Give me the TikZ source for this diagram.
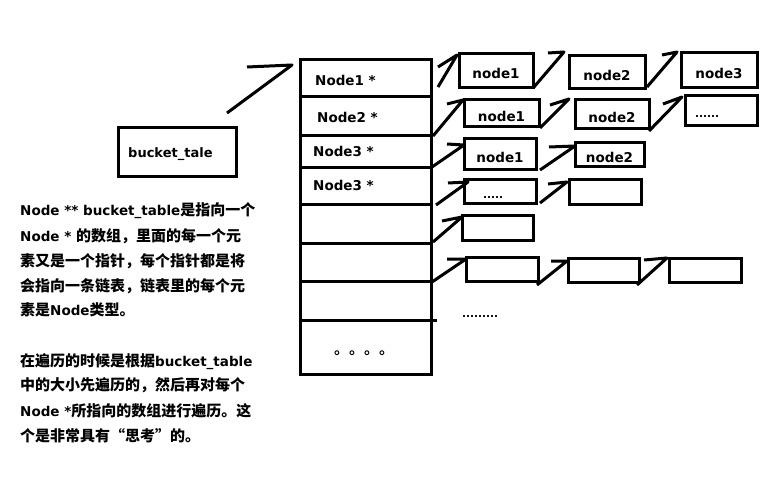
\documentclass[tikz,border=0pt]{standalone}
\usepackage{fontspec}
\setmainfont{DejaVu Sans}
\newfontfamily\zhfont{Noto Sans CJK SC}[UprightFont=* Bold]
\usetikzlibrary{calc}
\newcommand\zhs[1]{{\zhfont\fontsize{15}{18}\selectfont #1}}
\begin{document}
\begin{tikzpicture}[x=1pt,y=-1pt,
  lat/.style={font=\bfseries\fontsize{13.5}{16}\selectfont},
  box/.style={draw, line width=3pt, inner sep=0pt, outer sep=0pt, anchor=north west, lat, text height=16pt, text depth=0pt},
  lbl/.style={inner sep=0pt, anchor=west, lat},
  txt/.style={inner sep=0pt, anchor=base west, lat},
  dots/.style={inner sep=0pt, anchor=base west, font=\bfseries\fontsize{10.5}{12}\selectfont},
  tline/.style={line width=3pt},
  hand/.style={line width=3pt, line join=round}]
\useasboundingbox (0,0) rectangle (778,486);

% bucket box
\node[box, minimum width=118, minimum height=49] (bucket) at (118,128) {};
\node[lbl, font=\bfseries\fontsize{13}{16}\selectfont] (bucketlbl) at (128,154) {bucket\_tale};

% table
\node[draw, line width=3pt, minimum width=131, minimum height=314, anchor=north west, inner sep=0pt, outer sep=0pt] (tbl) at (300,60) {};
\foreach \dy in {37,76,108,145,183,221}
  \draw[tline] ($(tbl.north west)+(0,\dy)$) -- ($(tbl.north east)+(0,\dy)$);
\draw[tline] ($(tbl.north west)+(2,260)$) -- ($(tbl.north east)+(6,260)$);
\node[lbl] (n1) at (315,80) {Node1 *};
\node[lbl] (n2) at (317,117) {Node2 *};
\node[lbl] (n3) at (313,151) {Node3 *};
\node[lbl] (n4) at (313,185) {Node3 *};
\node[inner sep=0pt, anchor=base west, font=\zhfont\fontsize{15}{18}\selectfont] (tdots) at (334,354) {。。。。};

% list boxes
\node[box, minimum width=74, minimum height=34] (r1a) at (459,54) {node1};
\node[box, minimum width=76, minimum height=33] (r1b) at (569,56) {node2};
\node[box, minimum width=76, minimum height=35] (r1c) at (681,53) {node3};
\node[box, minimum width=75, minimum height=27] (r2a) at (464,100) {node1};
\node[box, minimum width=74, minimum height=29] (r2b) at (575,100) {node2};
\node[box, minimum width=72, minimum height=30] (r2c) at (685,96) {};
\node[dots] (r2cdots) at (695,118) {......};
\node[box, minimum width=72, minimum height=31] (r3a) at (464,139) {node1};
\node[box, minimum width=69, minimum height=24] (r3b) at (575,143) {node2};
\node[box, minimum width=72, minimum height=24] (r4a) at (464,180) {};
\node[dots] (r4adots) at (483,198.5) {.....};
\node[box, minimum width=72, minimum height=25] (r4b) at (569,180) {};
\node[box, minimum width=71, minimum height=24] (r5a) at (462,216) {};
\node[box, minimum width=72, minimum height=24] (r6a) at (466,257) {};
\node[box, minimum width=71, minimum height=24] (r6b) at (568,258) {};
\node[box, minimum width=72, minimum height=24] (r6c) at (669,258) {};
\node[dots] (moredots) at (462,317.5) {.........};

% hand drawn arrows
\draw[hand] ($(bucket.north east)+(-9,-15)$) -- ($(tbl.north west)+(-8,5)$) -- ++(-45,2);
\draw[hand] ($(tbl.north east)+(7,27)$) -- ($(r1a.north west)+(-2,1)$) -- ++(-19,12);
\draw[hand] ($(r1a.south east)+(1,-1)$) -- ($(r1b.north west)+(-5,-4)$) -- ++(-16,1);
\draw[hand] ($(r1b.south east)+(2,-2)$) -- ($(r1c.north west)+(-4,-1)$) -- ++(-15,3);
\draw[hand] ($(tbl.north east)+(2,76)$) -- ($(r2a.north west)+(-1,0)$) -- ++(-16,4);
\draw[hand] ($(r2a.south east)+(1,1)$) -- ($(r2b.north west)+(-6,-1)$) -- ++(-19,6);
\draw[hand] ($(r2b.south east)+(0,2)$) -- ($(r2c.north west)+(-3,1)$) -- ++(-19,7);
\draw[hand] ($(tbl.north east)+(1,107)$) -- ($(r3a.north west)+(0,6)$) -- ++(-17,-1);
\draw[hand] ($(r3a.south east)+(4,0)$) -- ($(r3b.north west)+(0,3)$) -- ++(-26,1);
\draw[hand] ($(tbl.north east)+(5,145)$) -- ($(r4a.north west)+(4,2)$) -- ++(-20,1);
\draw[hand] ($(r4a.south east)+(4,-1)$) -- ($(r4b.north west)+(-2,2)$) -- ++(-19,2);
\draw[hand] ($(tbl.north east)+(2,182)$) -- ($(r5a.north west)+(0,1)$) -- ++(-20,4);
\draw[hand] ($(tbl.north east)+(1,222)$) -- ($(r6a.north west)+(0,2)$) -- ++(-19,0);
\draw[hand] ($(r6a.south east)+(-1,4)$) -- ($(r6b.north west)+(-1,3)$) -- ++(-16,0);
\draw[hand] ($(r6b.south east)+(-2,3)$) -- ($(r6c.north west)+(-2,0)$) -- ++(-23,2);

% explanatory text
\node[txt] (p1) at (20,216) {Node ** bucket\_table\zhs{是指向一个}};
\node[txt] (p2) at (20,241) {Node * \zhs{的数组，里面的每一个元}};
\node[txt] (p3) at (20,266) {\zhs{素又是一个指针，每个指针都是将}};
\node[txt] (p4) at (20,291) {\zhs{会指向一条链表，链表里的每个元}};
\node[txt] (p5) at (20,315) {\zhs{素是}Node\zhs{类型。}};
\node[txt] (p6) at (20,366) {\zhs{在遍历的时候是根据}bucket\_table};
\node[txt] (p7) at (20,390) {\zhs{中的大小先遍历的，然后再对每个}};
\node[txt] (p8) at (20,416) {Node *\zhs{所指向的数组进行遍历。这}};
\node[txt] (p9) at (20,441) {\zhs{个是非常具有“思考”的。}};
\end{tikzpicture}
\end{document}
